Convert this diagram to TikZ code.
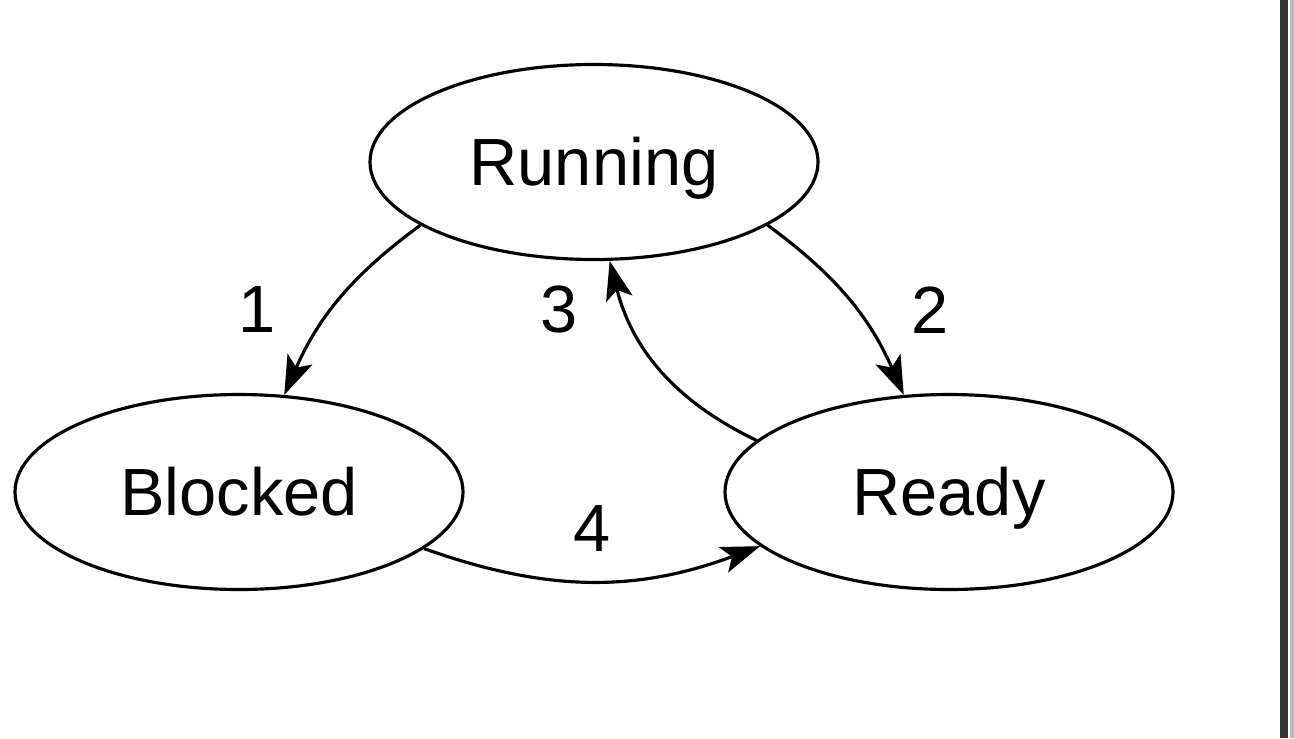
\documentclass[tikz,border=0pt]{standalone}
\usepackage{fontspec}
\setmainfont{Liberation Sans}
\usetikzlibrary{arrows.meta, positioning, shapes.geometric}

\begin{document}
\begin{tikzpicture}[
  state/.style={
    draw, ellipse, line width=0.9pt,
    minimum width=4.48cm, minimum height=1.95cm,
    text height=13.6pt, text depth=0pt,
    font=\fontsize{19}{23}\selectfont
  },
  lbl/.style={font=\fontsize{19}{23}\selectfont},
  arr/.style={-{Stealth[length=3.9mm, width=2.7mm, inset=0.9mm]}, line width=0.9pt}
]
  \useasboundingbox (0,0) rectangle (12.94,7.38);
  % window edge on the right
  \fill[black!80] (12.80,0) rectangle (12.88,7.38);
  \fill[gray!55] (12.895,0) rectangle (12.94,7.38);

  \node[state] (run) at (5.94,5.76) {Running};
  \node[state] (blk) at (2.39,2.46) {Blocked};
  \node[state] (rdy) at (9.49,2.46) {Ready};

  \draw[arr] (run.200) to[bend right=15]
    node[midway, left=5mm, yshift=-1mm, lbl] {1} (blk.65);
  \draw[arr] (run.340) to[bend left=15]
    node[midway, right=5mm, yshift=-1mm, lbl] {2} (rdy.115);
  \draw[arr] (rdy.165) to[bend left=25]
    node[pos=0.8, left=3.5mm, lbl] {3} (run.279);
  \draw[arr] (blk.343) to[bend right=20]
    node[midway, above=1.6mm, lbl] {4} (rdy.196);
\end{tikzpicture}
\end{document}
